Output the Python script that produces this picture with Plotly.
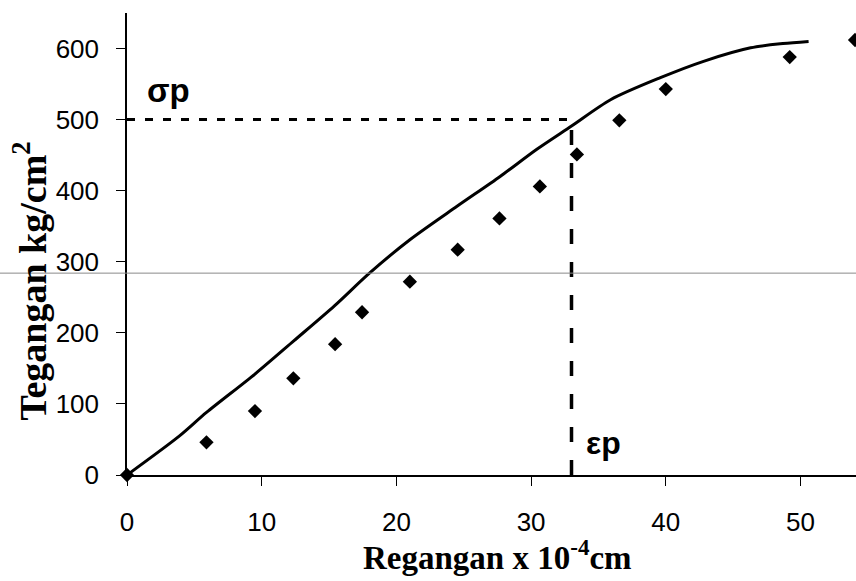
import plotly.graph_objects as go

# Measured strain (x 10^-4 cm) and stress (kg/cm^2) points
strain_pts = [0, 5.9, 9.5, 12.35, 15.45, 17.45, 21.0, 24.55, 27.65, 30.65, 33.4, 36.55, 40.0, 49.2, 54.05]
stress_pts = [0, 46, 90, 136, 184, 229, 272, 317, 361, 406, 451, 499, 543, 588, 612]

# Theoretical curve
curve_x = [0, 3.9, 5.9, 9.5, 12.4, 15.4, 18.0, 21.0, 24.5, 27.7, 30.4, 33.0, 35.9, 39.6, 42.8, 46.3, 48.7, 50.6]
curve_y = [0, 55, 88, 142, 189, 238, 284, 331, 378, 420, 458, 491, 528, 559, 582, 601, 607, 610]

# Proportional limit
sigma_p = 500
eps_p = 33.0

x_ticks = [0, 10, 20, 30, 40, 50]
y_ticks = [0, 100, 200, 300, 400, 500, 600]

tick_font = dict(family="Liberation Sans, Arial", size=26, color="black")

fig = go.Figure()

fig.add_trace(go.Scatter(
    x=curve_x, y=curve_y, mode="lines",
    line=dict(color="black", width=3, shape="spline", smoothing=0.8),
    showlegend=False, hoverinfo="skip"))

fig.add_trace(go.Scatter(
    x=[0, eps_p], y=[sigma_p, sigma_p], mode="lines",
    line=dict(color="black", width=3, dash="8px,10px"),
    showlegend=False, hoverinfo="skip"))

fig.add_trace(go.Scatter(
    x=[eps_p, eps_p], y=[0, sigma_p], mode="lines",
    line=dict(color="black", width=3.5, dash="15px,18px"),
    showlegend=False, hoverinfo="skip"))

fig.add_trace(go.Scatter(
    x=strain_pts, y=stress_pts, mode="markers",
    marker=dict(symbol="diamond", size=11, color="black"),
    cliponaxis=False, showlegend=False))

# Thin grey scan line across the image
fig.add_shape(type="line", xref="paper", yref="y",
              x0=-127/729, x1=1, y0=284, y1=284,
              line=dict(color="#8a8a8a", width=1))

fig.add_annotation(x=1.3, y=541, xref="x", yref="y", text="<b>σp</b>",
                   showarrow=False, xanchor="left", yanchor="middle",
                   font=dict(family="Liberation Sans, Arial", size=33, color="black"))
fig.add_annotation(x=33.9, y=45, xref="x", yref="y", text="<b>εp</b>",
                   showarrow=False, xanchor="left", yanchor="middle",
                   font=dict(family="Liberation Sans, Arial", size=32, color="black"))

fig.add_annotation(x=(497-127)/729, y=-80/463, xref="paper", yref="paper",
                   text="<b>Regangan x 10<sup>-4</sup>cm</b>", showarrow=False,
                   xanchor="center", yanchor="middle",
                   font=dict(family="Liberation Serif, Times New Roman", size=33, color="black"))
fig.add_annotation(x=(30-127)/729, y=(475-281)/463, xref="paper", yref="paper",
                   text="<b>Tegangan kg/cm<sup>2</sup></b>", showarrow=False, textangle=-90,
                   xanchor="center", yanchor="middle",
                   font=dict(family="Liberation Serif, Times New Roman", size=38, color="black"))

fig.update_layout(
    width=856, height=581,
    margin=dict(l=127, r=0, t=13, b=106),
    plot_bgcolor="white", paper_bgcolor="white",
    xaxis=dict(range=[0, 54.12], tickvals=x_ticks, ticks="outside", ticklen=9,
               tickcolor="black", tickwidth=1, showline=True, linecolor="black",
               linewidth=1.5, showgrid=False, zeroline=False, tickfont=tick_font,
               ticklabelstandoff=14),
    yaxis=dict(range=[0, 650], tickvals=y_ticks, ticks="outside", ticklen=9,
               tickcolor="black", tickwidth=1, showline=True, linecolor="black",
               linewidth=1.5, showgrid=False, zeroline=False, tickfont=tick_font,
               ticklabelstandoff=12),
)

fig.write_html("out.html", config={"displayModeBar": False},
               post_script="document.body.style.margin='0';document.body.style.overflow='hidden';")
